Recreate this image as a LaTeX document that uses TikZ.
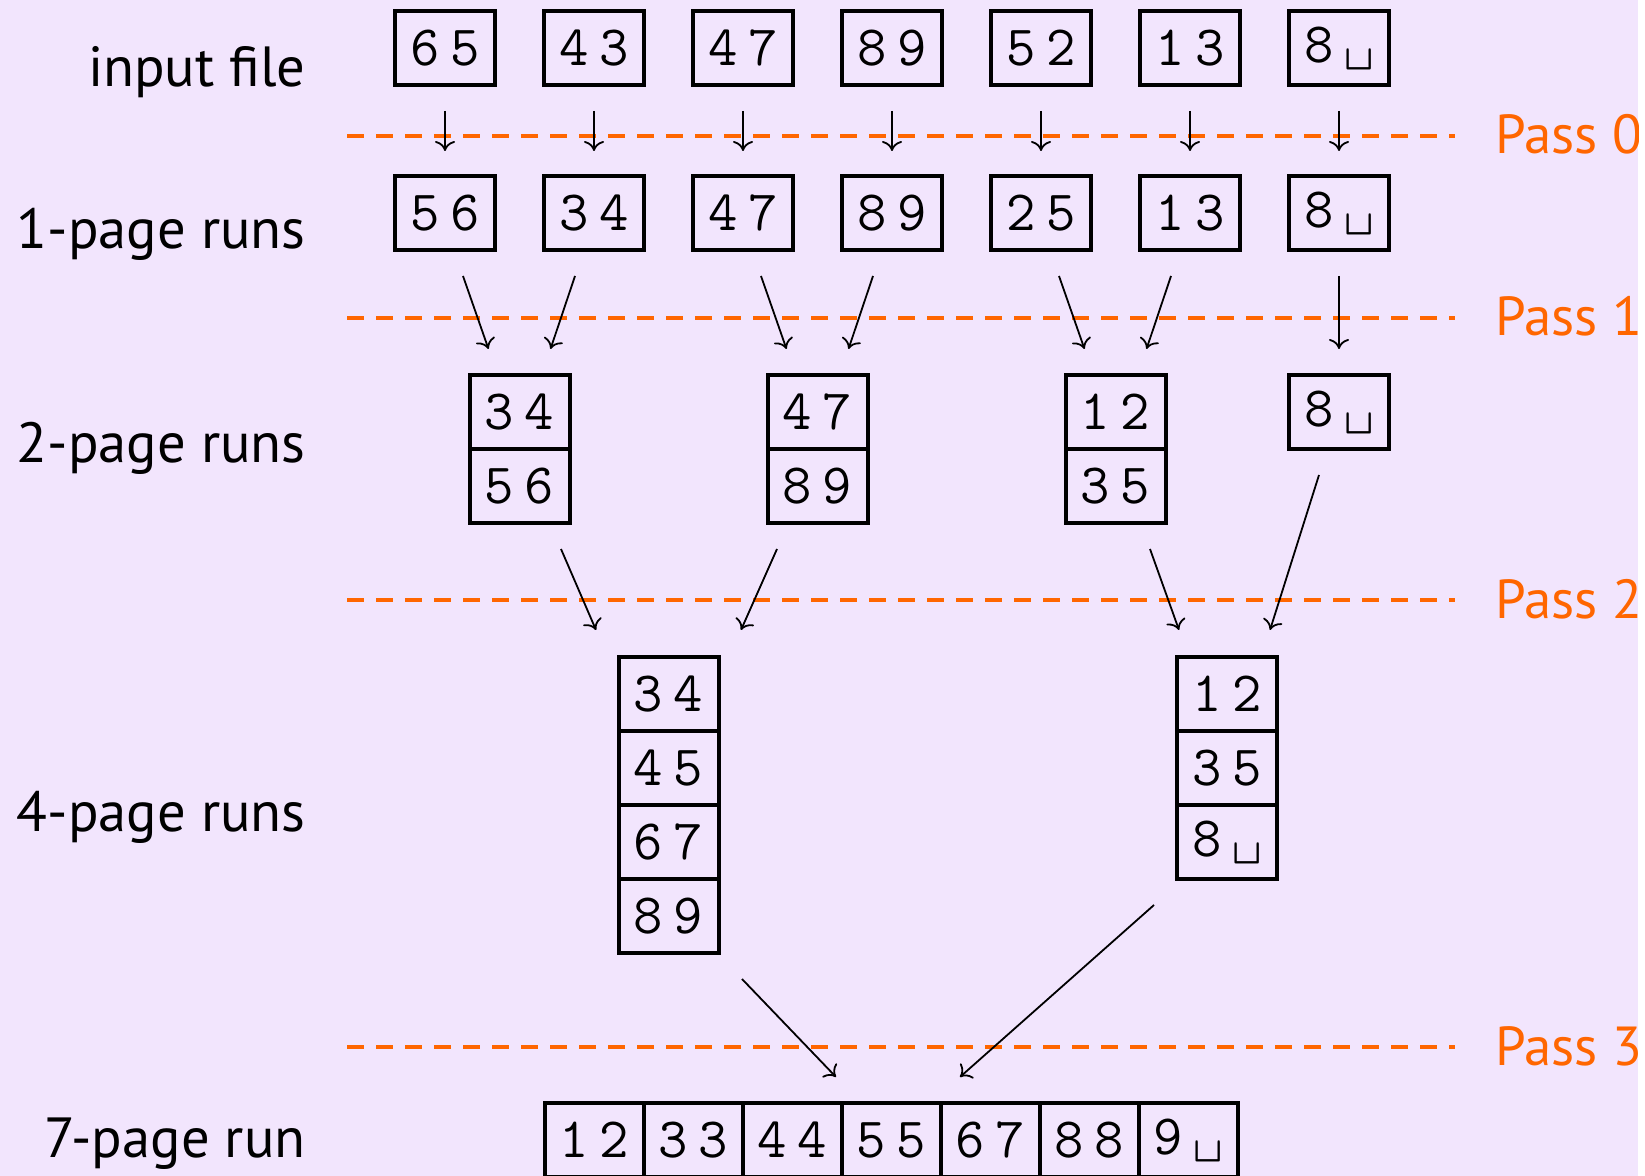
\documentclass[tikz,border=0pt]{standalone}
\usepackage{fontspec}
\setmainfont{PT Sans}
\usetikzlibrary{arrows.meta,calc}
\definecolor{bg}{RGB}{242,229,253}
\definecolor{passc}{RGB}{255,102,0}
\newcommand\pp[2]{\makebox[0.7em]{#1}\makebox[0.7em]{#2}}
\begin{document}
\begin{tikzpicture}[x=0.5pt,y=-0.5pt,
 cell/.style={draw, line width=2pt, minimum width=50pt, minimum height=37pt, inner sep=0pt, font=\ttfamily\fontsize{28.5}{28.5}\selectfont},
 bcell/.style={cell, minimum width=49.5pt},
 arr/.style={-{Computer Modern Rightarrow[length=5pt,width=10pt]}, line width=0.9pt},
 pass/.style={passc, dash pattern=on 8.5pt off 6pt, line width=2pt},
 lbl/.style={anchor=base east, inner sep=0pt, font=\fontsize{28.3}{28.3}\selectfont},
 plbl/.style={anchor=base west, inner sep=0pt, text=passc, font=\fontsize{27.5}{27.5}\selectfont}]
\useasboundingbox (0,0) rectangle (1645,1176);
\clip (0,0) rectangle (1638,1176);
\fill[bg] (0,0) rectangle (1638,1176);
% pass lines
\draw[pass] (347,136) -- (1455,136);
\draw[pass] (347,318) -- (1455,318);
\draw[pass] (347,600) -- (1455,600);
\draw[pass] (347,1047) -- (1455,1047);
\node[plbl] (p0) at (1495,154) {Pass 0};
\node[plbl] (p1) at (1495,336) {Pass 1};
\node[plbl] (p2) at (1495,618) {Pass 2};
\node[plbl] (p3) at (1495,1065) {Pass 3};
% labels
\node[lbl] (l0) at (306,87) {input file};
\node[lbl] (l1) at (306,249) {1-page runs};
\node[lbl] (l2) at (306,463) {2-page runs};
\node[lbl] (l3) at (306,831) {4-page runs};
\node[lbl] (l4) at (306,1157) {7-page run};
% row 0
\node[cell] (r0a) at (445,48) {\pp65};
\node[cell] (r0b) at (594,48) {\pp43};
\node[cell] (r0c) at (743,48) {\pp47};
\node[cell] (r0d) at (892,48) {\pp89};
\node[cell] (r0e) at (1041,48) {\pp52};
\node[cell] (r0f) at (1190,48) {\pp13};
\node[cell] (r0g) at (1339,48) {\pp8␣};
% row 1
\node[cell] (r1a) at (445,213) {\pp56};
\node[cell] (r1b) at (594,213) {\pp34};
\node[cell] (r1c) at (743,213) {\pp47};
\node[cell] (r1d) at (892,213) {\pp89};
\node[cell] (r1e) at (1041,213) {\pp25};
\node[cell] (r1f) at (1190,213) {\pp13};
\node[cell] (r1g) at (1339,213) {\pp8␣};
% row 2
\node[cell] (r2a1) at (519.5,412) {\pp34};
\node[cell] (r2a2) at (519.5,486) {\pp56};
\node[cell] (r2b1) at (817.5,412) {\pp47};
\node[cell] (r2b2) at (817.5,486) {\pp89};
\node[cell] (r2c1) at (1115.5,412) {\pp12};
\node[cell] (r2c2) at (1115.5,486) {\pp35};
\node[cell] (r2d) at (1339,412) {\pp8␣};
% row 3
\node[cell] (r3a1) at (668.5,694) {\pp34};
\node[cell] (r3a2) at (668.5,768) {\pp45};
\node[cell] (r3a3) at (668.5,842) {\pp67};
\node[cell] (r3a4) at (668.5,916) {\pp89};
\node[cell] (r3b1) at (1227,694) {\pp12};
\node[cell] (r3b2) at (1227,768) {\pp35};
\node[cell] (r3b3) at (1227,842) {\pp8␣};
% row 4
\node[bcell] (r4a) at (594.5,1140) {\pp12};
\node[bcell] (r4b) at (693.5,1140) {\pp33};
\node[bcell] (r4c) at (792.5,1140) {\pp44};
\node[bcell] (r4d) at (891.5,1140) {\pp55};
\node[bcell] (r4e) at (990.5,1140) {\pp67};
\node[bcell] (r4f) at (1089.5,1140) {\pp88};
\node[bcell] (r4g) at (1188.5,1140) {\pp9␣};
% pass 0 arrows
\foreach \k in {a,b,c,d,e,f,g}
  \draw[arr] ($(r0\k.south)+(0,24)$) -- ($(r1\k.north)+(0,-23)$);
% pass 1 arrows
\draw[arr] ($(r1a.south)+(18,24)$) -- ($(r2a1.north)+(-31,-24)$);
\draw[arr] ($(r1b.south)+(-19,24)$) -- ($(r2a1.north)+(31,-24)$);
\draw[arr] ($(r1c.south)+(18,24)$) -- ($(r2b1.north)+(-31,-24)$);
\draw[arr] ($(r1d.south)+(-19,24)$) -- ($(r2b1.north)+(31,-24)$);
\draw[arr] ($(r1e.south)+(18,24)$) -- ($(r2c1.north)+(-31,-24)$);
\draw[arr] ($(r1f.south)+(-19,24)$) -- ($(r2c1.north)+(31,-24)$);
\draw[arr] ($(r1g.south)+(0,24)$) -- ($(r2d.north)+(0,-24)$);
% pass 2 arrows
\draw[arr] ($(r2a2.south)+(41.5,24)$) -- ($(r3a1.north)+(-72.5,-25)$);
\draw[arr] ($(r2b2.south)+(-40.5,24)$) -- ($(r3a1.north)+(72.5,-25)$);
\draw[arr] ($(r2c2.south)+(34.5,24)$) -- ($(r3b1.north)+(-48,-25)$);
\draw[arr] ($(r2d.south)+(-20,24)$) -- ($(r3b1.north)+(43,-25)$);
% pass 3 arrows
\draw[arr] ($(r3a4.south)+(73.5,24)$) -- ($(r4d.north)+(-55.5,-24)$);
\draw[arr] ($(r3b3.south)+(-73,24)$) -- ($(r4d.north)+(68.5,-24)$);
\end{tikzpicture}
\end{document}
